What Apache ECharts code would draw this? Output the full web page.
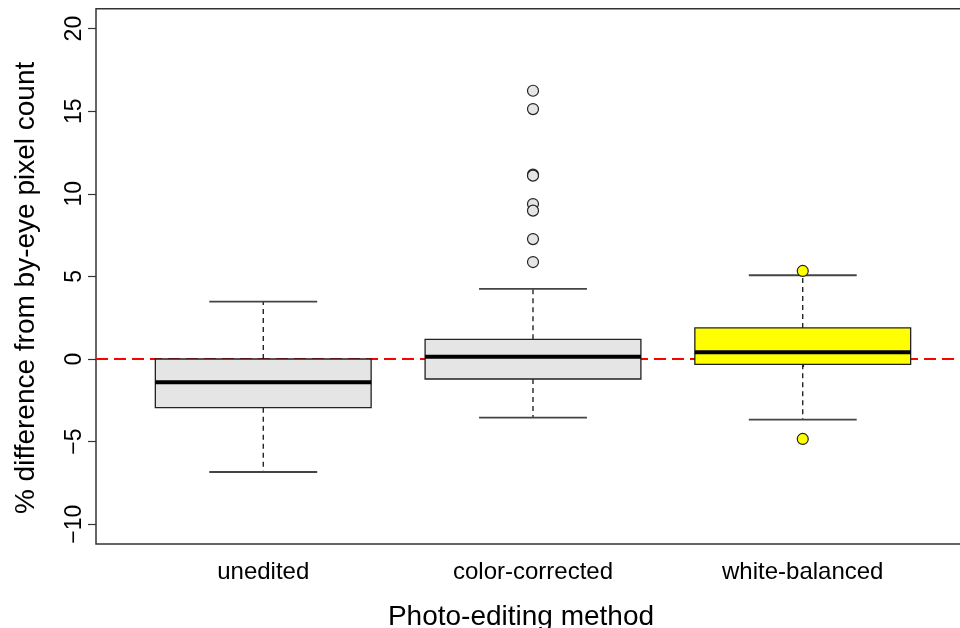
<!DOCTYPE html>
<html>
<head>
<meta charset="utf-8">
<script src="https://cdn.jsdelivr.net/npm/echarts@6/dist/echarts.min.js"></script>
<style>
html,body{margin:0;padding:0;background:#fff;}
#chart{width:960px;height:628px;}
</style>
</head>
<body>
<div id="chart"></div>
<script>
const categories = ['unedited', 'color-corrected', 'white-balanced'];
const whiskerLow = [-6.84, -3.55, -3.67];
const q1 = [-2.95, -1.21, -0.32];
const median = [-1.41, 0.14, 0.41];
const q3 = [0.0, 1.19, 1.88];
const whiskerHigh = [3.47, 4.24, 5.07];
const outliersColorCorrected = [16.24, 15.13, 11.16, 11.10, 9.38, 8.98, 7.26, 5.87];
const outliersWhiteBalanced = [5.33, -4.84];
const yTicks = [-10, -5, 0, 5, 10, 15, 20];
const referenceLine = 0;

const boxColors = ['#e5e5e5', '#e5e5e5', '#ffff00'];
const FONT = 'Liberation Sans, Arial, Helvetica, sans-serif';

const boxData = categories.map((c, i) => [i + 1, whiskerLow[i], q1[i], median[i], q3[i], whiskerHigh[i]]);

function renderBox(params, api) {
  const x = api.value(0);
  const lo = api.value(1), b1 = api.value(2), md = api.value(3), b3 = api.value(4), hi = api.value(5);
  const cx = api.coord([x, md])[0];
  const halfW = api.size([0.4, 0])[0];
  const capW = api.size([0.2, 0])[0];
  const yLo = api.coord([x, lo])[1];
  const yQ1 = api.coord([x, b1])[1];
  const yMd = api.coord([x, md])[1];
  const yQ3 = api.coord([x, b3])[1];
  const yHi = api.coord([x, hi])[1];
  const dash = { stroke: '#000', lineWidth: 1.2, lineDash: [5, 4] };
  const cap = { stroke: '#444', lineWidth: 1.8 };
  return {
    type: 'group',
    children: [
      { type: 'line', shape: { x1: cx, y1: yQ3, x2: cx, y2: yHi }, style: dash },
      { type: 'line', shape: { x1: cx, y1: yQ1, x2: cx, y2: yLo }, style: dash },
      { type: 'line', shape: { x1: cx - capW, y1: yHi, x2: cx + capW, y2: yHi }, style: cap },
      { type: 'line', shape: { x1: cx - capW, y1: yLo, x2: cx + capW, y2: yLo }, style: cap },
      { type: 'rect', shape: { x: cx - halfW, y: yQ3, width: 2 * halfW, height: yQ1 - yQ3 },
        style: { fill: boxColors[params.dataIndex], stroke: '#222', lineWidth: 1.3 } },
      { type: 'line', shape: { x1: cx - halfW, y1: yMd, x2: cx + halfW, y2: yMd },
        style: { stroke: '#000', lineWidth: 4 } }
    ]
  };
}

const chart = echarts.init(document.getElementById('chart'), null, { renderer: 'canvas' });
chart.setOption({
  animation: false,
  backgroundColor: '#fff',
  grid: { left: 96, width: 874, top: 8.8, height: 535.2, outerBoundsMode: 'none', containLabel: false,
    show: true, borderColor: '#333', borderWidth: 1.5, backgroundColor: 'transparent' },
  xAxis: {
    type: 'value', min: 0.38, max: 3.62,
    splitLine: { show: false },
    axisLine: { show: false },
    axisTick: { show: true, customValues: [1, 2, 3], length: 8, inside: false, lineStyle: { color: '#333', width: 1.2 } },
    axisLabel: { customValues: [1, 2, 3], formatter: v => categories[Math.round(v) - 1], margin: 16,
      fontFamily: FONT, fontSize: 24, color: '#000' },
    name: 'Photo-editing method', nameLocation: 'middle', nameGap: 59,
    nameTextStyle: { fontFamily: FONT, fontSize: 28, color: '#000', padding: [0, 24, 0, 0] }
  },
  yAxis: {
    type: 'value', min: -11.2, max: 21.2,
    splitLine: { show: false },
    axisLine: { show: false },
    axisTick: { show: true, customValues: yTicks, length: 8, lineStyle: { color: '#333', width: 1.2 } },
    axisLabel: { customValues: yTicks, rotate: 90, margin: 10, formatter: v => String(v).replace('-', '\u2212'),
      fontFamily: FONT, fontSize: 23, color: '#000' },
    name: '% difference from by-eye pixel count', nameLocation: 'middle', nameGap: 56,
    nameTextStyle: { fontFamily: FONT, fontSize: 28, color: '#000', padding: [0, 23, 0, 0] }
  },
  series: [
    {
      type: 'line', data: [], z: 1,
      markLine: {
        z: 1, silent: true, symbol: 'none', label: { show: false },
        lineStyle: { color: '#ff0000', type: [12, 6], width: 2 },
        data: [{ yAxis: referenceLine }]
      }
    },
    {
      type: 'custom', z: 10, renderItem: renderBox, data: boxData,
      encode: { x: 0, y: [1, 2, 3, 4, 5] }
    },
    {
      type: 'scatter', z: 11, symbol: 'circle', symbolSize: 11,
      data: outliersColorCorrected.map(v => [2, v]),
      itemStyle: { color: '#e5e5e5', borderColor: '#222', borderWidth: 1.2, opacity: 1 }
    },
    {
      type: 'scatter', z: 11, symbol: 'circle', symbolSize: 11,
      data: outliersWhiteBalanced.map(v => [3, v]),
      itemStyle: { color: '#ffff00', borderColor: '#222', borderWidth: 1.2, opacity: 1 }
    }
  ]
});
</script>
</body>
</html>
